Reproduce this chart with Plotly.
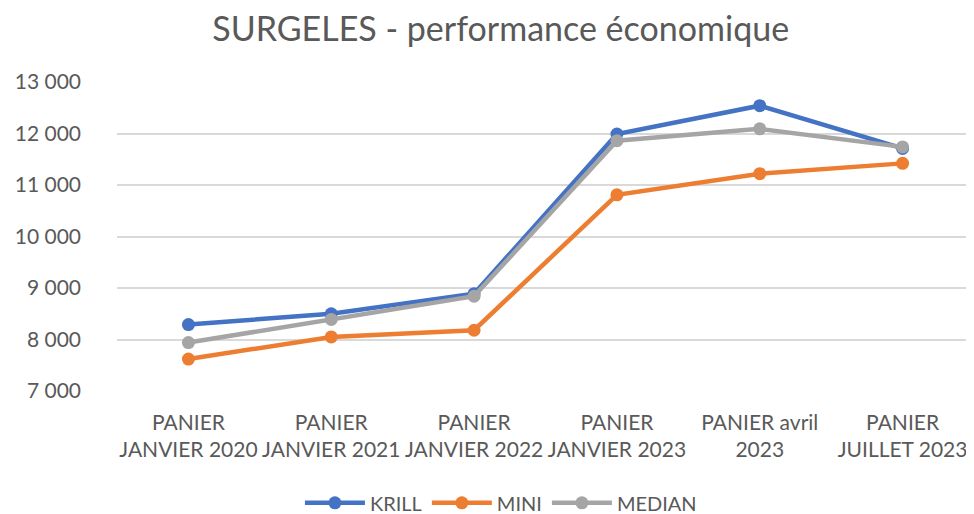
import plotly.graph_objects as go

categories = ["PANIER<br>JANVIER 2020", "PANIER<br>JANVIER 2021", "PANIER<br>JANVIER 2022",
              "PANIER<br>JANVIER 2023", "PANIER avril<br>2023", "PANIER<br>JUILLET 2023"]
krill = [8290, 8500, 8890, 11990, 12540, 11710]
mini = [7620, 8050, 8180, 10810, 11220, 11420]
median = [7940, 8390, 8840, 11860, 12090, 11740]
y_ticks = [7000, 8000, 9000, 10000, 11000, 12000, 13000]

series = [("KRILL", krill, "#4472C4"), ("MINI", mini, "#ED7D31"), ("MEDIAN", median, "#A5A5A5")]

fig = go.Figure()
for name, vals, col in series:
    fig.add_trace(go.Scatter(x=categories, y=vals, name=name, mode="lines+markers",
                             line=dict(color=col, width=4.5),
                             marker=dict(color=col, size=13)))

font_fam = "Lato, Open Sans, sans-serif"
fig.update_layout(
    width=966, height=506,
    paper_bgcolor="white", plot_bgcolor="white",
    margin=dict(l=109, r=0, t=74, b=123, autoexpand=False),
    separators=", ",
    title=dict(text="SURGELES - performance économique", x=0.510, xanchor="center",
               y=0.958, yanchor="middle",
               font=dict(family=font_fam, size=34, color="#595959")),
    font=dict(family=font_fam, color="#595959"),
    xaxis=dict(showgrid=False, showline=False, ticks="", automargin=False,
               range=[-0.5, 5.5], ticklabelstandoff=17,
               tickfont=dict(size=21, color="#595959")),
    yaxis=dict(range=[7000, 13000], tickvals=y_ticks, tickformat=",d",
               showgrid=True, gridcolor="#D9D9D9", gridwidth=1.5, zeroline=False,
               showline=False, ticks="", ticklabelstandoff=35, automargin=False,
               tickfont=dict(size=21, color="#595959")),
    legend=dict(orientation="h", x=0.448, xanchor="center", y=-0.362, yanchor="middle",
                font=dict(size=20, color="#595959"), itemwidth=60),
    showlegend=True,
)
fig.write_html("out.html")
